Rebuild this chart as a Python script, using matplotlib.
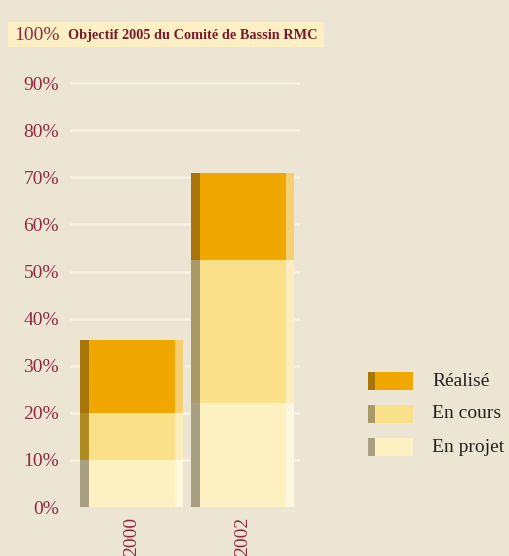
import matplotlib
matplotlib.use('Agg')
import matplotlib.pyplot as plt
from matplotlib.patches import Rectangle

# data (in %)
annees = ['2000', '2002']
en_projet = [10, 22]
en_cours = [10, 30.5]
realise = [15.5, 18.5]
series = ['Réalisé', 'En cours', 'En projet']
yticks = [0, 10, 20, 30, 40, 50, 60, 70, 80, 90]

fond = '#ece5d3'
rouge = '#8e2a45'
couleurs = {'Réalisé': '#f0a800', 'En cours': '#fbe08a', 'En projet': '#fdf1c2'}
# bande sombre à gauche, une couleur par barre
bandes = {'Réalisé': ['#a87608', '#a87608'],
          'En cours': ['#b08c20', '#aa9a68'],
          'En projet': ['#a89f80', '#a89f80']}
bandes_leg = {'Réalisé': '#a87608', 'En cours': '#aa9a68', 'En projet': '#a89f80'}

plt.rcParams['font.family'] = ['Liberation Serif', 'DejaVu Serif']

W, H = 510, 556
fig = plt.figure(figsize=(W / 100, H / 100), dpi=100, facecolor=fond)

def fx(x):
    return x / W

def fy(y):
    return 1 - y / H

# bandeau du titre, derrière tout
fig.add_artist(Rectangle((fx(8), fy(47)), fx(324) - fx(8), fy(22) - fy(47),
                         transform=fig.transFigure, color='#fcefc4', lw=0, zorder=0))

ax = fig.add_axes([fx(70), fy(507), fx(300) - fx(70), fy(36) - fy(507)])
ax.set_facecolor('none')
ax.set_xlim(-0.554, 1.518)
ax.set_ylim(0, 100)
for s in ax.spines.values():
    s.set_visible(False)

for t in yticks[1:]:
    ax.axhline(t, color='#f6f1e4', lw=1.8, zorder=0)

x = list(range(len(annees)))
larg = 0.92
bande = 0.075
bas = [0] * len(annees)
for nom, vals in [('En projet', en_projet), ('En cours', en_cours), ('Réalisé', realise)]:
    ax.bar(x, vals, bottom=bas, width=larg, color=couleurs[nom], align='center',
           zorder=2, linewidth=0)
    # bord clair à droite
    ax.bar([xi + larg / 2 - 0.032 for xi in x], vals, bottom=bas, width=0.064,
           color='white', alpha=0.45, zorder=3, linewidth=0)
    ax.bar([xi - larg / 2 + bande / 2 for xi in x], vals, bottom=bas, width=bande,
           color=bandes[nom], zorder=3, linewidth=0)
    bas = [b + v for b, v in zip(bas, vals)]

ax.set_yticks(yticks)
ax.set_yticklabels([f'{t}%' for t in yticks], color=rouge, fontsize=14)
ax.set_xticks(x)
ax.set_xticklabels(annees, rotation=90, color=rouge, fontsize=14, va='top')
ax.tick_params(length=0, axis='y', pad=8)
ax.tick_params(length=0, axis='x', pad=7)

fig.text(fx(14), fy(35), '100%', color=rouge, fontsize=14, va='center')
fig.text(fx(68), fy(35), 'Objectif 2005 du Comité de Bassin RMC', color='#7a1a28',
         fontsize=10.3, fontweight='bold', va='center')

# légende
for i, nom in enumerate(series):
    yc = 381 + i * 33
    fig.add_artist(Rectangle((fx(368), fy(yc + 9)), fx(413) - fx(368), fy(yc - 9) - fy(yc + 9),
                             transform=fig.transFigure, color=couleurs[nom], lw=0))
    fig.add_artist(Rectangle((fx(368), fy(yc + 9)), fx(375) - fx(368), fy(yc - 9) - fy(yc + 9),
                             transform=fig.transFigure, color=bandes_leg[nom], lw=0))
    fig.text(fx(432), fy(yc), nom, color='#222222', fontsize=14, va='center')

fig.savefig('out.png', dpi=100, facecolor=fond)
